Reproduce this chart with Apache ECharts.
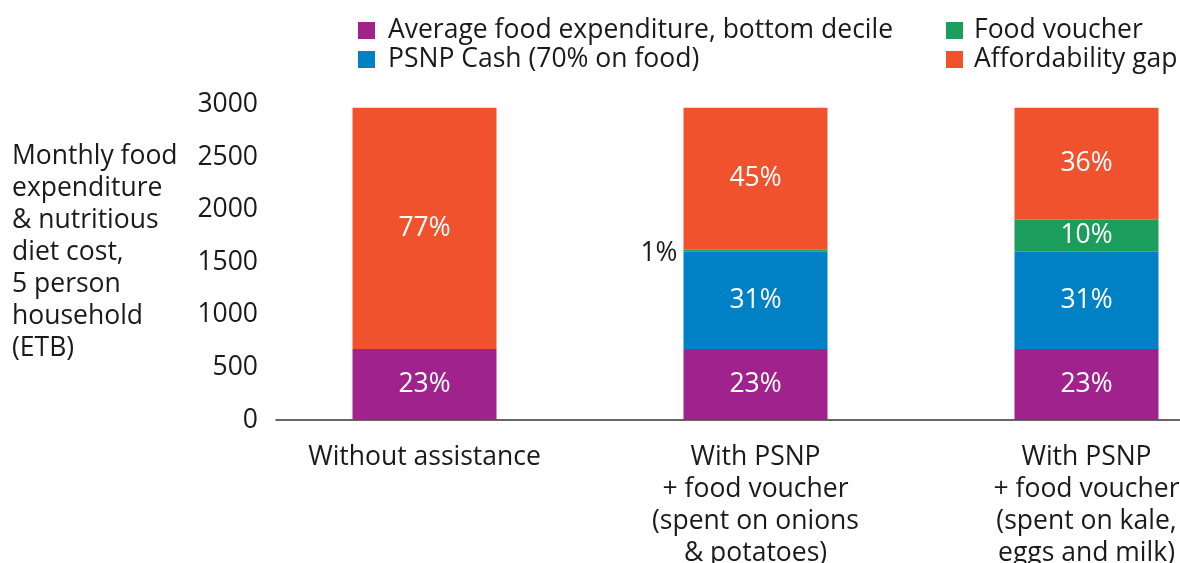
<!DOCTYPE html>
<html>
<head>
<meta charset="utf-8">
<script src="https://cdn.jsdelivr.net/npm/echarts@6/dist/echarts.min.js"></script>
<style>
html,body{margin:0;padding:0;background:#fff;}
#c{width:1180px;height:563px;}
</style>
</head>
<body>
<div id="c"></div>
<script>
const categories = [
  "Without assistance",
  "With PSNP\n+ food voucher\n(spent on onions\n& potatoes)",
  "With PSNP\n+ food voucher\n(spent on kale,\neggs and milk)"
];
const seriesNames = [
  "Average food expenditure, bottom decile",
  "PSNP Cash (70% on food)",
  "Food voucher",
  "Affordability gap"
];
const bottomDecile = [676, 676, 676];
const psnpCash = [null, 925, 925];
const foodVoucher = [null, 20, 305];
const affordabilityGap = [2294, 1349, 1064];

const bottomDecileLabels = ["23%", "23%", "23%"];
const psnpCashLabels = ["", "31%", "31%"];
const foodVoucherLabels = ["", "1%", "10%"];
const affordabilityGapLabels = ["77%", "45%", "36%"];

const yTicks = [0, 500, 1000, 1500, 2000, 2500, 3000];
const yAxisTitle = "Monthly food\nexpenditure\n& nutritious\ndiet cost,\n5 person\nhousehold\n(ETB)";

const colors = ["#A0228C", "#0081C5", "#1B9D5B", "#F0522E"];
const FONT = "'Open Sans', 'Noto Sans', sans-serif";
const TXT = "#1a1a1a";
const FS = 26.5;

function labelCfg(labels) {
  return {
    show: true,
    position: "inside",
    color: "#fff",
    fontFamily: FONT,
    fontSize: FS,
    formatter: p => labels[p.dataIndex]
  };
}

const chart = echarts.init(document.getElementById("c"));
const legendText = { fontFamily: FONT, fontSize: FS, color: TXT, lineHeight: 27, padding: [0, 0, 0, 8] };
const option = {
  animation: false,
  color: colors,
  textStyle: { fontFamily: FONT },
  legend: [
    {
      data: [seriesNames[0], seriesNames[1]],
      orient: "vertical",
      left: 358, top: 17, padding: 0,
      icon: "rect", itemWidth: 17, itemHeight: 17, itemGap: 2,
      textStyle: legendText,
      selectedMode: false
    },
    {
      data: [seriesNames[2], seriesNames[3]],
      orient: "vertical",
      left: 946, top: 17, padding: 0,
      icon: "rect", itemWidth: 17, itemHeight: 17, itemGap: 2,
      textStyle: Object.assign({}, legendText, { padding: [0, 0, 0, 6] }),
      selectedMode: false
    }
  ],
  graphic: [
    {
      type: "text",
      left: 12, top: 140,
      style: { text: yAxisTitle, fontFamily: FONT, fontSize: FS, lineHeight: 32, fill: TXT }
    }
  ],
  grid: [
    { left: 259, width: 993, top: 104.7, bottom: 143, outerBoundsMode: "none", containLabel: false },
    { left: 276, right: 0, top: 104.7, bottom: 143, outerBoundsMode: "none", containLabel: false }
  ],
  xAxis: [
    {
      type: "category", gridIndex: 0, data: categories,
      axisLine: { show: false }, axisTick: { show: false },
      axisLabel: { fontFamily: FONT, fontSize: FS, color: TXT, lineHeight: 32, margin: 21, align: "center", interval: 0 }
    },
    {
      type: "value", gridIndex: 1, min: 0, max: 1,
      axisLine: { show: true, lineStyle: { color: "#333", width: 1.5 } },
      axisTick: { show: false }, axisLabel: { show: false }, splitLine: { show: false }
    }
  ],
  yAxis: [
    {
      type: "value", gridIndex: 0, min: yTicks[0], max: yTicks[yTicks.length - 1], interval: 500,
      axisLine: { show: false }, axisTick: { show: false }, splitLine: { show: false },
      axisLabel: { fontFamily: FONT, fontSize: FS, color: TXT, margin: 1, formatter: v => String(v) }
    },
    {
      type: "value", gridIndex: 1, min: 0, max: 1, show: false
    }
  ],
  series: [
    { name: seriesNames[0], type: "bar", stack: "t", barWidth: 144, data: bottomDecile, label: labelCfg(bottomDecileLabels) },
    { name: seriesNames[1], type: "bar", stack: "t", barWidth: 144, data: psnpCash, label: labelCfg(psnpCashLabels) },
    {
      name: seriesNames[2], type: "bar", stack: "t", barWidth: 144,
      data: foodVoucher.map((v, i) => i === 1 ? { value: v, label: { position: "left", color: TXT, distance: 6, offset: [0, 3] } } : v),
      label: labelCfg(foodVoucherLabels)
    },
    { name: seriesNames[3], type: "bar", stack: "t", barWidth: 144, data: affordabilityGap, label: labelCfg(affordabilityGapLabels) }
  ]
};
chart.setOption(option);
</script>
</body>
</html>
